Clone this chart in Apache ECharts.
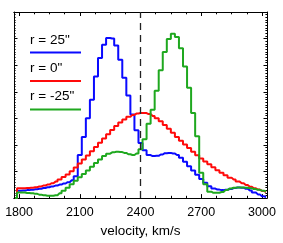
<!DOCTYPE html>
<html>
<head>
<meta charset="utf-8">
<script src="https://cdn.jsdelivr.net/npm/echarts@6/dist/echarts.min.js"></script>
<style>
html,body{margin:0;padding:0;background:#fff;}
#chart{width:283px;height:243px;}
</style>
</head>
<body>
<div id="chart"></div>
<script>
// Bin centres (km/s); the first entry is the zero level the histograms start from
const velocity = [1780,1800,1820,1840,1860,1880,1900,1920,1940,1960,1980,
  2000,2020,2040,2060,2080,2100,2120,2140,2160,2180,
  2200,2220,2240,2260,2280,2300,2320,2340,2360,2380,
  2400,2420,2440,2460,2480,2500,2520,2540,2560,2580,
  2600,2620,2640,2660,2680,2700,2720,2740,2760,2780,
  2800,2820,2840,2860,2880,2900,2920,2940,2960,2980,
  3000,3020];

const seriesNames = ['r = 25"', 'r = 0"', 'r = -25"'];

const r25 = [0, 0.28,0.29,0.30,0.31,0.33,0.35,0.38,0.41,0.44,0.47,
  0.51,0.55,0.60,0.67,0.82,1.62,2.30,3.00,3.70,4.57,
  5.27,5.77,6.02,6.00,5.74,5.20,4.53,3.86,3.14,2.55,
  2.07,1.80,1.62,1.58,1.59,1.64,1.69,1.70,1.68,1.62,
  1.52,1.37,1.20,1.04,0.88,0.72,0.58,0.45,0.36,0.32,
  0.30,0.31,0.34,0.38,0.40,0.39,0.35,0.29,0.21,0.14,
  0.07,0.03];

const r0 = [0, 0.37,0.37,0.38,0.39,0.41,0.44,0.47,0.51,0.56,0.62,
  0.70,0.79,0.89,1.01,1.15,1.30,1.45,1.60,1.76,1.92,
  2.08,2.24,2.40,2.56,2.71,2.84,2.96,3.06,3.13,3.18,
  3.20,3.20,3.16,3.09,3.00,2.89,2.75,2.61,2.46,2.30,
  2.16,2.02,1.88,1.74,1.61,1.49,1.38,1.27,1.16,1.05,
  0.95,0.86,0.77,0.70,0.62,0.56,0.49,0.43,0.37,0.32,
  0.27,0.22];

const rm25 = [0, 0.21,0.21,0.19,0.18,0.16,0.13,0.11,0.09,0.09,0.11,
  0.18,0.28,0.39,0.52,0.65,0.78,0.91,1.04,1.18,1.32,
  1.45,1.58,1.67,1.72,1.74,1.73,1.70,1.65,1.62,1.68,
  1.84,2.21,2.80,3.32,4.04,4.81,5.50,5.98,6.18,6.06,
  5.64,4.95,4.15,3.20,2.33,0.95,0.52,0.24,0.20,0.20,
  0.23,0.30,0.36,0.39,0.40,0.40,0.39,0.37,0.34,0.31,
  0.28,0.25];

const xTickLabels = [1800, 2100, 2400, 2700, 3000];
const xMinorTicks = [1800,1875,1950,2025,2100,2175,2250,2325,2400,2475,2550,2625,2700,2775,2850,2925,3000];
const centreVelocity = 2400;

const colors = ['#0a0aff', '#ff0a0a', '#1fa81f'];
const FONT = '"Liberation Sans", Arial, Helvetica, sans-serif';

function pairs(vals){ return velocity.map((v,i)=>[v, vals[i]]); }

const X_MIN = 1775, X_MAX = 3025;
const line = {show:true, lineStyle:{color:'#000', width:1}};

function xAxisDef(pos, ticks, len, labels){
  return {
    type:'value', position:pos, min:X_MIN, max:X_MAX,
    axisLine: line,
    axisTick:{show:true, inside:true, length:len, customValues:ticks, lineStyle:{color:'#000', width:1}},
    axisLabel: labels ? {show:true, customValues:xTickLabels, color:'#000', fontFamily:FONT, fontSize:12.5, margin:8,
      formatter:(v)=>String(v)} : {show:false},
    splitLine:{show:false},
    name: labels ? 'velocity, km/s' : '',
    nameLocation:'middle', nameGap:20,
    nameTextStyle:{color:'#000', fontFamily:FONT, fontSize:13.5}
  };
}
function yAxisDef(pos){
  return {
    type:'value', position:pos, min:0, max:7, interval:1,
    axisLine: line,
    axisTick:{show:true, inside:true, length:3.5, lineStyle:{color:'#000', width:1}},
    minorTick:{show:true, splitNumber:10, length:1.6, lineStyle:{color:'#000', width:1}},
    axisLabel:{show:false}, splitLine:{show:false}, minorSplitLine:{show:false}
  };
}

const chart = echarts.init(document.getElementById('chart'), null, {renderer:'canvas'});
const dataSets = [r25, r0, rm25];

const legendGraphics = [];
const legendTextY = [41, 69.5, 97.5];
const legendLineY = [52.5, 81, 109.5];
seriesNames.forEach((n,i)=>{
  legendGraphics.push({type:'text', left:30, top:legendTextY[i]-8,
    style:{text:n, fill:'#000', font:'13.5px ' + FONT}});
  legendGraphics.push({type:'line', shape:{x1:30, y1:legendLineY[i], x2:81, y2:legendLineY[i]},
    style:{stroke:colors[i], lineWidth:2}});
});

chart.setOption({
  animation:false,
  backgroundColor:'#fff',
  grid:{left:14, top:12, width:253, height:196, containLabel:false},
  xAxis:[
    xAxisDef('bottom', xTickLabels, 4, true),
    xAxisDef('bottom', xMinorTicks, 2.3, false),
    xAxisDef('top', xTickLabels, 4, false),
    xAxisDef('top', xMinorTicks, 2.3, false)
  ],
  yAxis:[yAxisDef('left'), yAxisDef('right')],
  graphic: legendGraphics,
  series: [
    {type:'line', data:[], xAxisIndex:0, yAxisIndex:0, z:1,
      markLine:{silent:true, symbol:['none','none'], label:{show:false},
        lineStyle:{color:'#222', width:1.3, type:[7,5]},
        data:[{xAxis:centreVelocity}]}}
  ].concat(dataSets.map((d,i)=>({
    type:'line', name:seriesNames[i], step:'middle', data:pairs(d),
    xAxisIndex:0, yAxisIndex:0, showSymbol:false, symbol:'none', z:2+i,
    lineStyle:{color:colors[i], width:2}, clip:true
  })))
});
</script>
</body>
</html>
